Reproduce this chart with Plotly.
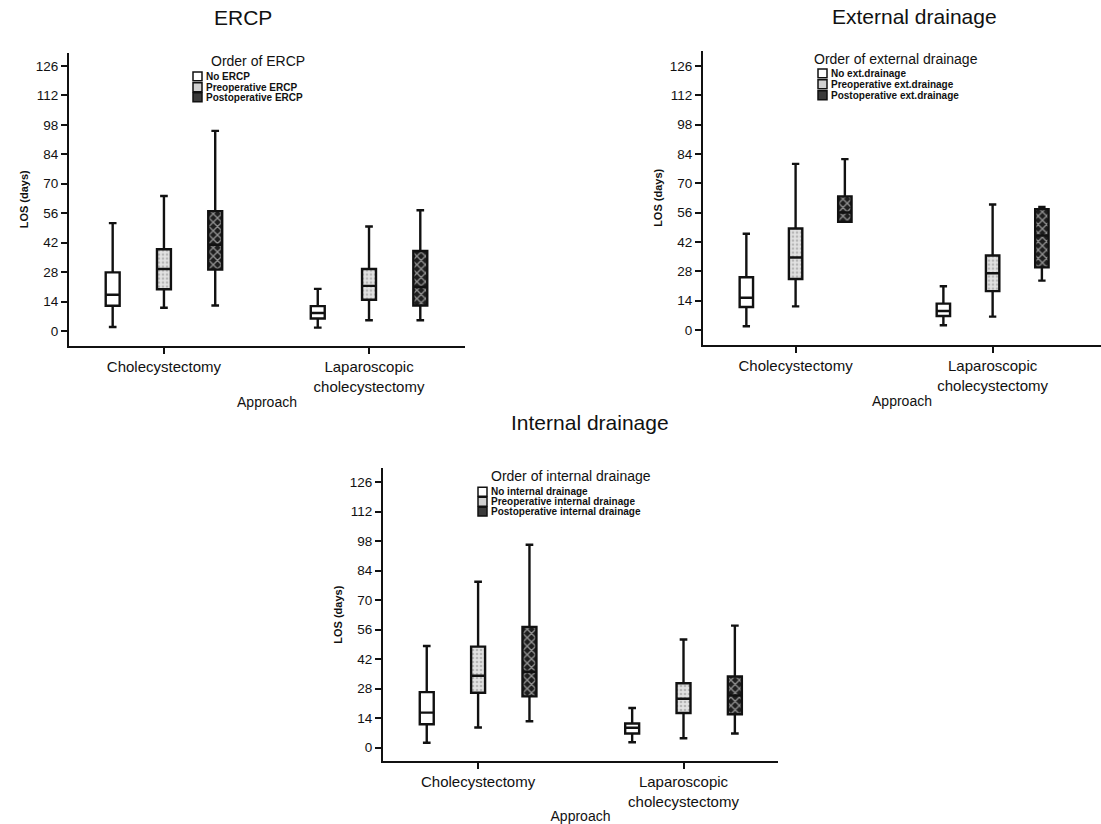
import plotly.graph_objects as go

W, H = 1101, 824

# ---------------- data ----------------
approaches = ["Cholecystectomy", "Laparoscopic<br>cholecystectomy"]
y_ticks = [0, 14, 28, 42, 56, 70, 84, 98, 112, 126]

# ERCP panel  (values per approach: [Cholecystectomy, Laparoscopic])
ercp_groups = ["No ERCP", "Preoperative ERCP", "Postoperative ERCP"]
ercp_low = [[2.0, 1.7], [11.1, 5.2], [12.2, 5.2]]
ercp_q1 = [[12.1, 6.0], [19.9, 14.9], [29.2, 12.2]]
ercp_med = [[17.3, 8.6], [29.5, 21.5], [41.0, 21.0]]
ercp_q3 = [[27.9, 11.9], [38.9, 29.5], [57.0, 38.1]]
ercp_high = [[51.3, 20.1], [64.2, 49.7], [95.1, 57.4]]

# External drainage panel
ext_groups = ["No ext.drainage", "Preoperative ext.drainage", "Postoperative ext.drainage"]
ext_low = [[1.7, 2.2], [11.2, 6.3], [51.6, 23.5]]
ext_q1 = [[10.9, 6.6], [24.3, 18.5], [51.6, 29.8]]
ext_med = [[15.3, 9.0], [34.5, 27.0], [56.0, 45.0]]
ext_q3 = [[25.1, 12.5], [48.4, 35.5], [63.7, 57.6]]
ext_high = [[45.9, 20.8], [79.2, 59.8], [81.5, 58.7]]

# Internal drainage panel
int_groups = ["No internal drainage", "Preoperative internal drainage", "Postoperative internal drainage"]
int_low = [[2.3, 2.5], [9.5, 4.4], [12.5, 6.7]]
int_q1 = [[11.1, 6.7], [26.0, 16.4], [24.3, 15.8]]
int_med = [[16.6, 9.4], [34.1, 23.2], [36.0, 24.7]]
int_q3 = [[26.3, 11.4], [47.9, 30.5], [57.3, 33.7]]
int_high = [[48.2, 18.8], [78.7, 51.3], [96.3, 57.9]]

panel_titles = ["ERCP", "External drainage", "Internal drainage"]
legend_titles = ["Order of ERCP", "Order of external drainage", "Order of internal drainage"]

# ---------------- style / layout ----------------
FONT = "Liberation Sans, Arial, sans-serif"
INK = "#111111"
group_offset = 0.25
box_w = 0.068
patterns = [
    dict(shape="", bgcolor="white"),
    dict(shape=".", bgcolor="#e2e2e2", fgcolor="#8a8a8a", size=4, solidity=0.35),
    dict(shape="x", bgcolor="#1e1e1e", fgcolor="#ffffff", size=6, solidity=0.4),
]
legend_fill = ["white", "#d0d0d0", "#3a3a3a"]

# pixel geometry of the three panels: (x0, x1, ytop, ybottom)
panels_px = [(69, 465, 53, 349), (703, 1101, 51, 348), (383, 778, 472, 768)]
x_ranges = [[-0.463, 1.468], [-0.47, 1.55], [-0.463, 1.46]]
y_ranges = [[-7.06, 132.3], [-7.25, 133.3], [-6.6, 132.7]]
title_px = [(243, 18), (915, 17), (590, 426)]
leg_title_px = [(258, 62), (896, 60), (571, 480)]
leg_sym_x = [193, 818, 478]
leg_rows_y = [(77, 88, 98), (74, 85, 96), (496, 506, 516)]


def px(x):
    return x / W


def py(y):
    return 1 - y / H


panels = [
    (ercp_groups, ercp_low, ercp_q1, ercp_med, ercp_q3, ercp_high),
    (ext_groups, ext_low, ext_q1, ext_med, ext_q3, ext_high),
    (int_groups, int_low, int_q1, int_med, int_q3, int_high),
]

fig = go.Figure()
annotations = []
shapes = []

for p, (groups, low, q1, med, q3, high) in enumerate(panels):
    xa = "x" if p == 0 else f"x{p+1}"
    ya = "y" if p == 0 else f"y{p+1}"
    # pattern fill (bars between Q1 and Q3)
    for g in range(3):
        xs = [i + (g - 1) * group_offset for i in range(len(approaches))]
        fig.add_trace(go.Bar(
            x=xs, base=q1[g], y=[b - a for a, b in zip(q1[g], q3[g])],
            width=box_w, marker=dict(color=patterns[g]["bgcolor"], pattern=patterns[g],
                                     line=dict(width=0)),
            showlegend=False, hoverinfo="skip", xaxis=xa, yaxis=ya))
    # box outlines
    for g in range(3):
        xs = [i + (g - 1) * group_offset for i in range(len(approaches))]
        fig.add_trace(go.Box(
            name=groups[g], x=xs, q1=q1[g], median=med[g], q3=q3[g],
            lowerfence=low[g], upperfence=high[g], width=box_w,
            whiskerwidth=0.55, fillcolor="rgba(0,0,0,0)",
            line=dict(color=INK, width=2.4), boxpoints=False,
            showlegend=False, xaxis=xa, yaxis=ya))

    x0, x1, yt, yb = panels_px[p]
    axis_common = dict(showline=True, linecolor=INK, linewidth=2, showgrid=False,
                       zeroline=False, ticks="outside", ticklen=6, tickwidth=2,
                       tickcolor=INK, mirror=False)
    fig.update_layout(**{
        ("xaxis" if p == 0 else f"xaxis{p+1}"): dict(
            domain=[px(x0), px(x1)], range=x_ranges[p], anchor=ya,
            tickmode="array", tickvals=list(range(len(approaches))), ticktext=approaches,
            tickfont=dict(family=FONT, size=15, color=INK),
            title=dict(text="Approach", font=dict(family=FONT, size=14, color=INK), standoff=4),
            **axis_common),
        ("yaxis" if p == 0 else f"yaxis{p+1}"): dict(
            domain=[py(yb), py(yt)], range=y_ranges[p], anchor=xa,
            tickmode="array", tickvals=y_ticks,
            tickfont=dict(family=FONT, size=13.5, color=INK),
            title=dict(text="<b>LOS (days)</b>", font=dict(family=FONT, size=11, color=INK), standoff=5),
            **axis_common),
    })

    # panel title
    tx, ty = title_px[p]
    annotations.append(dict(text=panel_titles[p], x=px(tx), y=py(ty), xref="paper", yref="paper",
                            xanchor="center", yanchor="middle", showarrow=False,
                            font=dict(family=FONT, size=21, color=INK)))
    # legend (manual)
    lx, ly = leg_title_px[p]
    annotations.append(dict(text=legend_titles[p], x=px(lx), y=py(ly), xref="paper", yref="paper",
                            xanchor="center", yanchor="middle", showarrow=False,
                            font=dict(family=FONT, size=14, color=INK)))
    sx = leg_sym_x[p]
    for g in range(3):
        ry = leg_rows_y[p][g]
        shapes.append(dict(type="rect", xref="paper", yref="paper",
                           x0=px(sx), x1=px(sx + 9), y0=py(ry + 4.5), y1=py(ry - 4.5),
                           line=dict(color=INK, width=1.5), fillcolor=legend_fill[g]))
        annotations.append(dict(text=f"<b>{groups[g]}</b>", x=px(sx + 11), y=py(ry),
                                xref="paper", yref="paper", xanchor="left", yanchor="middle",
                                showarrow=False, font=dict(family=FONT, size=10, color=INK)))

fig.update_layout(
    width=W, height=H, margin=dict(l=0, r=0, t=0, b=0),
    paper_bgcolor="white", plot_bgcolor="white",
    barmode="overlay", boxmode="overlay",
    annotations=annotations, shapes=shapes, showlegend=False,
    font=dict(family=FONT, color=INK),
)

fig.write_html("out.html")
